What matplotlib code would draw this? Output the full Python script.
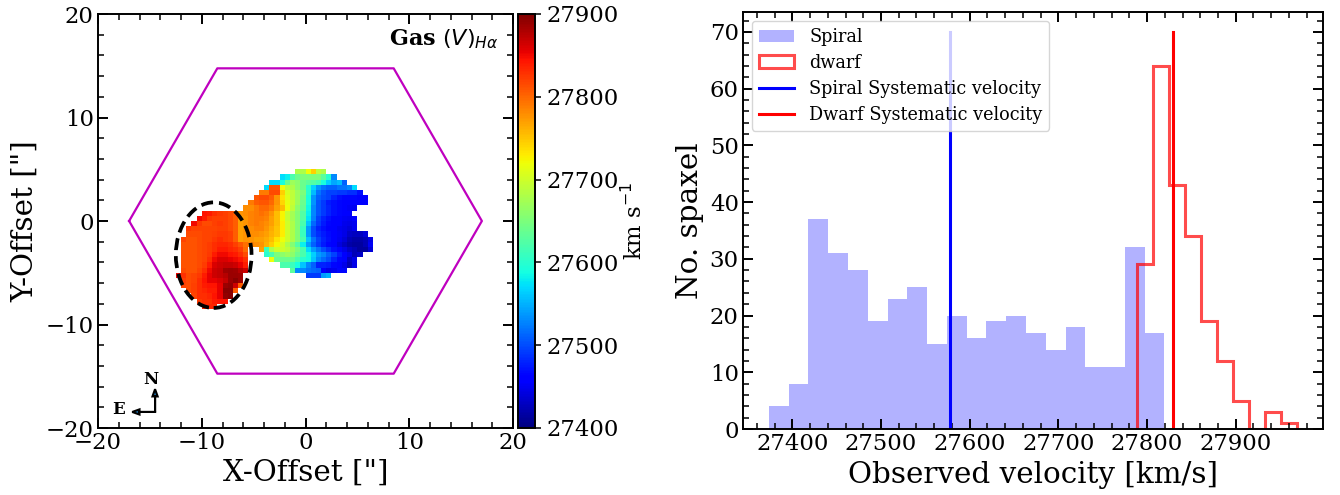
import numpy as np
import matplotlib
matplotlib.use("Agg")
import matplotlib.pyplot as plt
from matplotlib.patches import Ellipse, Patch
from matplotlib.ticker import MultipleLocator

plt.rcParams['font.family'] = 'DejaVu Serif'
plt.rcParams['mathtext.fontset'] = 'custom'
plt.rcParams['mathtext.rm'] = 'DejaVu Sans'
plt.rcParams['mathtext.it'] = 'DejaVu Sans:italic'
plt.rcParams['mathtext.bf'] = 'DejaVu Serif:bold'

# ---- histogram data (right panel)
spiral_edges = [27373.6, 27395.9, 27418.2, 27440.5, 27462.8, 27485.1, 27507.4, 27529.7, 27552.0, 27574.3,
                27596.6, 27618.9, 27641.2, 27663.5, 27685.8, 27708.1, 27730.4, 27752.7, 27775.0, 27797.3, 27819.6]
spiral_counts = [4, 8, 37, 31, 28, 19, 23, 25, 15, 20, 16, 19, 20, 17, 14, 18, 11, 11, 32, 17]
dwarf_edges = [27789.0, 27807.0, 27825.0, 27843.0, 27861.0, 27879.0, 27897.0, 27915.0, 27933.0, 27951.0, 27969.0]
dwarf_counts = [29, 64, 43, 34, 19, 12, 5, 0, 3, 1]
spiral_sys_velocity = 27577.5
dwarf_sys_velocity = 27829
sys_line_top = 70

# ---- hexagon field of view
hex_x = [-17, -8.5, 8.5, 17, 8.5, -8.5, -17]
hex_y = [0, 14.75, 14.75, 0, -14.75, -14.75, 0]

# ---- velocity map: (row top Y in arcsec, first column index in 0.5" units, velocities - 27000)
map_rows = [
 (5.0, -2, [680,680,720,745,690,680]),
 (4.5, -5, [570,580,620,640,650,650,650,650,630,600,530]),
 (4.0, -7, [570,570,590,640,670,660,640,630,625,615,590,565,545,555,510]),
 (3.5, -8, [570,810,810,720,690,680,660,640,600,565,535,520,510,510,520,520,530,570]),
 (3.0, -9, [790,790,815,815,745,705,690,670,650,600,555,520,505,495,495,490,490,485,485,470]),
 (2.5, -10, [810,815,815,805,775,735,710,690,670,645,590,535,510,500,495,480,470,465,465,465,460,460]),
 (2.0, -11, [790,805,810,810,800,775,740,715,695,670,640,590,535,505,490,475,470,465,460,460,460,455,455]),
 (1.5, -12, [780,780,790,800,800,790,770,755,720,690,660,635,585,530,505,490,480,470,465,458,452,450]),
 (1.0, -20, [845,840,830,825,820,815,805]),
 (1.0, -13, [775,780,785,790,795,790,775,755,725,695,675,655,625,580,530,505,490,480,470,465,460,455]),
 (0.5, -21, [850,840,825,820,820,820,815,805]),
 (0.5, -13, [770,775,785,790,790,785,770,755,725,695,675,655,625,575,525,495,480,470,462,458,452,450,455]),
 (0.0, -22, [850,825,815,815,820,825,820,815,805]),
 (0.0, -13, [770,775,785,790,785,780,770,755,730,700,680,655,620,560,515,490,475,465,460,455,448,445,450]),
 (-0.5, -23, [825,818,818,818,818,818,820,820,815,805]),
 (-0.5, -13, [770,775,780,785,785,775,765,750,730,700,680,655,610,540,500,480,470,462,458,450,445,440,450]),
 (-1.0, -23, [815,815,815,818,818,820,825,825,820,805]),
 (-1.0, -13, [770,775,780,780,775,770,760,750,730,700,680,655,610,540,500,485,475,468,460,452,445,432,428,428,440]),
 (-1.5, -24, [818,812,812,815,818,818,825,830,825,820,805]),
 (-1.5, -13, [770,775,775,770,770,765,755,735,720,700,680,655,620,560,520,495,480,470,460,450,440,425,418,418,424,445]),
 (-2.0, -24, [812,812,812,815,818,822,830,835,835,830,820,810,795,785]),
 (-2.0, -10, [780,775,760,745,725,705,680,655,625,580,540,510,490,475,465,455,442,430,418,415,415,424,452]),
 (-2.5, -24, [812,812,812,815,818,822,830,840,840,835,830,820,800]),
 (-2.5, -9, [770,610,680,700,700,690,670,650,620,570,540,520,500,485,470,458,445,432,425,415,415,440]),
 (-3.0, -24, [812,812,812,815,818,825,840,850,850,845,840,830,815]),
 (-3.0, -8, [600,620,650,660,670,660,640,620,590,565,540,530,510,495,475,458,445,425,432]),
 (-3.5, -24, [812,812,812,815,818,830,850,860,860,855,850,845,830]),
 (-3.5, -7, [720,640,640,640,640,620,600,590,560,530,515,500,480,465,455,430,445]),
 (-4.0, -24, [812,812,812,815,822,840,860,865,870,870,865,855,840]),
 (-4.0, -5, [620,620,610,590,560,530,510,480,480,475,465,458,445,425,445]),
 (-4.5, -24, [815,812,812,818,830,850,865,870,885,888,885,875,865]),
 (-4.5, -3, [630,530,530,520,515,510,460,445,450,465,465]),
 (-5.0, -25, [850,828,815,818,825,840,855,865,870,875,888,888,885]),
 (-5.0, 0, [490,490,490,540,550]),
 (-5.5, -24, [822,815,818,830,845,855,855,860,870,888,895,885]),
 (-6.0, -24, [818,815,820,830,840,845,845,855,888,892,865,805]),
 (-6.5, -23, [815,820,830,835,840,840,855,895,895,805]),
 (-7.0, -22, [818,830,830,835,845,855,892,895]),
 (-7.5, -21, [825,830,830,840,845,845]),
 (-8.0, -20, [835,835,835]),
]
map_zero = 27000
map_levels = [27400, 27500, 27600, 27700, 27800, 27900]

W, H = 1340, 495
fig = plt.figure(figsize=(W/100, H/100), dpi=100)
def box(l, t, r, b):
    return [l/W, 1-b/H, (r-l)/W, (b-t)/H]

TICK = 16.4
LABEL = 21.2
LW = 1.4

def style(ax, xmin, ymin):
    ax.xaxis.set_minor_locator(MultipleLocator(xmin))
    ax.yaxis.set_minor_locator(MultipleLocator(ymin))
    ax.tick_params(which='both', direction='in', top=True, right=True, labelsize=TICK, width=LW)
    ax.tick_params(which='major', length=7.5, pad=3)
    ax.tick_params(which='minor', length=4.2, width=1.1)
    for s in ax.spines.values():
        s.set_linewidth(LW)

# ---- left panel
ax = fig.add_axes(box(98, 14, 513, 428))
nx, ny = 80, 80
grid = np.full((ny, nx), np.nan)
for ytop, k0, vals in map_rows:
    j = int(round((ytop - 0.5 + 20) * 2))
    for n, v in enumerate(vals):
        grid[j, k0 + n + 40] = v + map_zero
xe = np.arange(nx + 1) * 0.5 - 20
ye = np.arange(ny + 1) * 0.5 - 20
pm = ax.pcolormesh(xe, ye, grid, cmap='jet', vmin=27400, vmax=27900)
ax.plot(hex_x, hex_y, color='m', lw=1.6)
ax.add_patch(Ellipse((-8.85, -3.3), 7.3, 10.2, fill=False, ec='k', lw=2.7, ls=(0, (3.2, 1.6))))
ax.set_xlim(-20, 20)
ax.set_ylim(-20, 20)
ax.xaxis.set_major_locator(MultipleLocator(10))
ax.yaxis.set_major_locator(MultipleLocator(10))
style(ax, 2, 2)
ax.set_xlabel('X-Offset ["]', fontsize=LABEL, labelpad=3.6)
ax.set_ylabel('Y-Offset ["]', fontsize=LABEL, labelpad=5)
ax.text(18.6, 17.6, r'$\mathbf{Gas}\ (V)_{H\alpha}$', ha='right', va='center', fontsize=16)
ax.arrow(-14.5, -18.45, 0, 1.5, head_width=0.5, head_length=0.7, lw=1.5, ec='k', fc='C0')
ax.arrow(-14.5, -18.45, -1.5, 0, head_width=0.5, head_length=0.7, lw=1.5, ec='k', fc='C0')
ax.text(-14.9, -15.3, 'N', fontweight='bold', fontsize=12, ha='center', va='center')
ax.text(-18.0, -18.2, 'E', fontweight='bold', fontsize=12, ha='center', va='center')

cax = fig.add_axes(box(518, 14, 535, 428))
cb = fig.colorbar(pm, cax=cax, ticks=map_levels)
cb.ax.tick_params(labelsize=TICK, length=4, width=1.1, pad=4)
cb.outline.set_linewidth(LW)
cb.set_label(r'km s$^{-1}$', fontsize=16.4, labelpad=2)

# ---- right panel
ax2 = fig.add_axes(box(743, 12, 1323, 429))
h1 = ax2.stairs(spiral_counts, spiral_edges, fill=True, color='b', alpha=0.3)
ax2.stairs(dwarf_counts, dwarf_edges, color='r', alpha=0.7, lw=2.2, baseline=0)
h3, = ax2.plot([spiral_sys_velocity]*2, [0, sys_line_top], color='b', lw=2.2)
h4, = ax2.plot([dwarf_sys_velocity]*2, [0, sys_line_top], color='r', lw=2.2)
ax2.set_xlim(27344.4, 27998.4)
ax2.set_ylim(0, 73.5)
ax2.xaxis.set_major_locator(MultipleLocator(100))
ax2.yaxis.set_major_locator(MultipleLocator(10))
style(ax2, 20, 2)
ax2.set_xlabel('Observed velocity [km/s]', fontsize=LABEL, labelpad=4)
ax2.set_ylabel('No. spaxel', fontsize=LABEL, labelpad=4)
handles = [Patch(fc='b', alpha=0.3, ec='none'),
           Patch(fc='none', ec=(1, 0, 0, 0.7), lw=2.2), h3, h4]
ax2.legend(handles, ['Spiral', 'dwarf', 'Spiral Systematic velocity', 'Dwarf Systematic velocity'],
           loc='upper left', fontsize=12.7, borderaxespad=0.5, labelspacing=0.45, borderpad=0.4, handletextpad=0.85)

fig.savefig('out.png', dpi=100)
